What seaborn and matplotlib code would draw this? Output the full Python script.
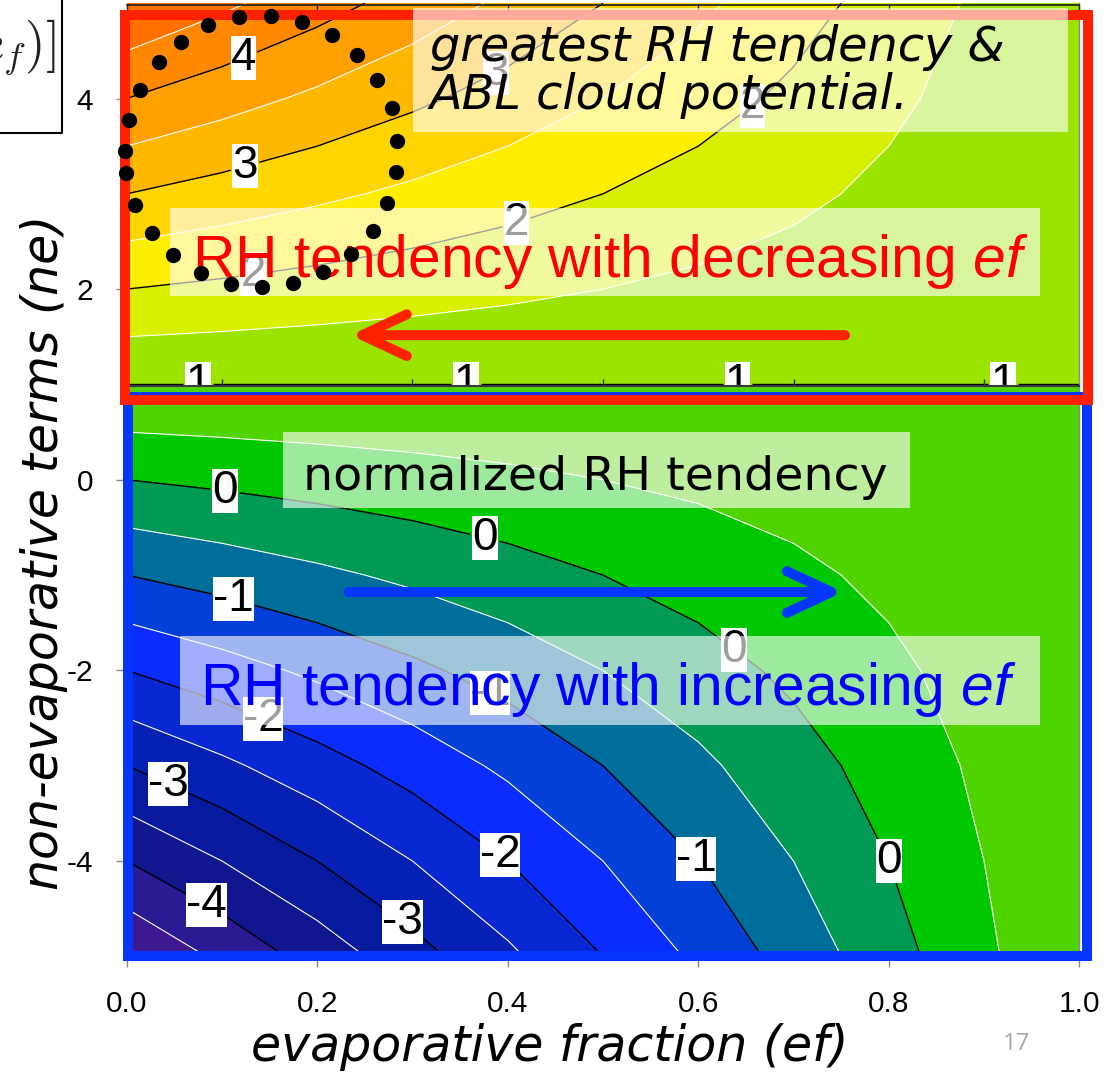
import numpy as np
import matplotlib
matplotlib.use("Agg")
import matplotlib.pyplot as plt
import seaborn as sns
from matplotlib.colors import ListedColormap, BoundaryNorm
from matplotlib.patches import Rectangle, FancyArrowPatch, ArrowStyle
from matplotlib.lines import Line2D
from matplotlib.transforms import Bbox, TransformedBbox

# ---------------------------------------------------------------- data
# evaporative fraction (columns) and non-evaporative terms (rows)
ef_values = [0.0, 0.1, 0.2, 0.3, 0.4, 0.5, 0.6, 0.7, 0.8, 0.9, 1.0]
ne_values = [-5, -4, -3, -2, -1, 0, 1, 2, 3, 4, 5]

# normalized RH tendency on the (ne, ef) grid, one row per ne value
rh_tendency = [
    [-5.0, -4.4, -3.8, -3.2, -2.6, -2.0, -1.4, -0.8, -0.2, 0.4, 1.0],
    [-4.0, -3.5, -3.0, -2.5, -2.0, -1.5, -1.0, -0.5, 0.0, 0.5, 1.0],
    [-3.0, -2.6, -2.2, -1.8, -1.4, -1.0, -0.6, -0.2, 0.2, 0.6, 1.0],
    [-2.0, -1.7, -1.4, -1.1, -0.8, -0.5, -0.2, 0.1, 0.4, 0.7, 1.0],
    [-1.0, -0.8, -0.6, -0.4, -0.2, 0.0, 0.2, 0.4, 0.6, 0.8, 1.0],
    [0.0, 0.1, 0.2, 0.3, 0.4, 0.5, 0.6, 0.7, 0.8, 0.9, 1.0],
    [1.0, 1.0, 1.0, 1.0, 1.0, 1.0, 1.0, 1.0, 1.0, 1.0, 1.0],
    [2.0, 1.9, 1.8, 1.7, 1.6, 1.5, 1.4, 1.3, 1.2, 1.1, 1.01],
    [3.0, 2.8, 2.6, 2.4, 2.2, 2.0, 1.8, 1.6, 1.4, 1.2, 1.01],
    [4.0, 3.7, 3.4, 3.1, 2.8, 2.5, 2.2, 1.9, 1.6, 1.3, 1.01],
    [5.0, 4.6, 4.2, 3.8, 3.4, 3.0, 2.6, 2.2, 1.8, 1.4, 1.01],
]

# contour levels: black lines on whole numbers, white lines on halves
line_levels = [-4, -3, -2, -1, 0, 1, 2, 3, 4]
half_levels = [-4.5, -3.5, -2.5, -1.5, -0.5, 0.5, 1.5, 2.5, 3.5, 4.5]
band_edges = [-5, -4.5, -4, -3.5, -3, -2.5, -2, -1.5, -1, -0.5, 0,
              0.5, 1, 1.5, 2, 2.5, 3, 3.5, 4, 4.5, 5]

# where the contour labels sit (ef, ne)
label_spots = [
    (0.124, 4.40), (0.124, 3.30), (0.132, 2.20), (0.386, 4.30),
    (0.408, 2.74), (0.66, 3.88),
    (0.075, 1.0), (0.356, 1.0), (0.641, 1.0), (0.92, 1.0),
    (0.103, -0.14), (0.376, -0.61), (0.637, -1.79), (0.798, -4.01),
    (0.112, -1.26), (0.378, -2.31), (0.594, -4.01),
    (0.142, -2.54), (0.387, -4.01),
    (0.043, -3.20), (0.29, -4.64), (0.084, -4.46),
]

# outline of the highlighted high-RH region (ef, ne)
highlight_ef = [0.014, 0.034, 0.057, 0.085, 0.118, 0.152, 0.184, 0.216, 0.242,
                0.263, 0.278, 0.284, 0.283, 0.273, 0.259, 0.235, 0.206, 0.175,
                0.142, 0.109, 0.078, 0.049, 0.027, 0.009, -0.001, -0.002, 0.002]
highlight_ne = [4.089, 4.383, 4.593, 4.771, 4.855, 4.865, 4.802, 4.666, 4.456,
                4.194, 3.900, 3.553, 3.227, 2.902, 2.608, 2.367, 2.178, 2.063,
                2.022, 2.053, 2.168, 2.357, 2.588, 2.882, 3.218, 3.449, 3.775]

# direction arrows (ef tail, ef head, ne)
red_arrow = (0.754, 0.235, 1.517)
blue_arrow = (0.233, 0.752, -1.178)

band_colors = ["#3d1890", "#2a1a94", "#10168e", "#061a9e", "#0620b4",
               "#0828d4", "#0a2cff", "#0440d8", "#006e9a", "#009a55",
               "#00c800", "#50d400", "#9be400", "#d8f000", "#ffee00",
               "#ffd400", "#ffb800", "#ffa000", "#ff8800", "#ff7000"]

# ---------------------------------------------------------------- style
sns.set_theme(style="white")
plt.rcParams["font.family"] = ["Liberation Sans", "DejaVu Sans"]
plt.rcParams["text.color"] = "black"
plt.rcParams["mathtext.fontset"] = "custom"
plt.rcParams["mathtext.it"] = "Liberation Sans:italic"
plt.rcParams["mathtext.rm"] = "Liberation Sans"
plt.rcParams["contour.negative_linestyle"] = "solid"

W_PX, H_PX = 1112, 1074
fig = plt.figure(figsize=(W_PX / 100, H_PX / 100), dpi=100)
fig.patch.set_facecolor("white")


def fx(px):
    return px / W_PX


def fy(py):
    return 1 - py / H_PX


AX_L, AX_R, AX_T, AX_B = 126.7, 1079.3, 3.2, 956.3
ax = fig.add_axes([fx(AX_L), fy(AX_B), fx(AX_R) - fx(AX_L), fy(AX_T) - fy(AX_B)])

cmap = ListedColormap(sns.color_palette(band_colors))
norm = BoundaryNorm(band_edges, cmap.N)
z = np.array(rh_tendency)

ax.contourf(ef_values, ne_values, z, levels=band_edges, cmap=cmap, norm=norm)
ax.contour(ef_values, ne_values, z, levels=half_levels, colors="white",
           linewidths=0.8)
cs = ax.contour(ef_values, ne_values, z, levels=line_levels, colors="black",
                linewidths=1.0)
ax.clabel(cs, levels=line_levels, manual=label_spots, fmt="%d", fontsize=33,
          inline=True, inline_spacing=2)

upper_clip = TransformedBbox(Bbox([[-0.1, 0.98], [1.1, 5.5]]), ax.transData)
for t in cs.labelTexts:
    t.set_rotation(0)
    t.set_fontfamily("Liberation Sans")
    t.set_color("black")
    t.set_bbox(dict(facecolor="white", edgecolor="none", pad=0))
    if t.get_text() == "1":
        t.set_clip_on(True)
        t.set_clip_box(upper_clip)

ax.set_xlim(0, 1)
ax.set_ylim(-5, 5)
ax.set_xticks([0.0, 0.2, 0.4, 0.6, 0.8, 1.0])
ax.set_xticklabels(["0.0", "0.2", "0.4", "0.6", "0.8", "1.0"])
ax.set_yticks([-4, -2, 0, 2, 4])
ax.set_yticklabels(["-4", "-2", "0", "2", "4"])
ax.tick_params(axis="both", colors="#888888", labelcolor="black", length=8,
               width=1, pad=16, labelsize=21.5, left=True, bottom=True)
for side in ["left", "bottom", "top"]:
    ax.spines[side].set_visible(False)
ax.spines["right"].set_color("#888888")
ax.spines["right"].set_linewidth(1)

# frame of the upper (ne > 1) panel
top_px, bot_px = 5, 386.5
ax_top = fig.add_axes([fx(AX_L), fy(bot_px), fx(AX_R) - fx(AX_L),
                       fy(top_px) - fy(bot_px)], zorder=1)
ax_top.set_facecolor("none")
ax_top.set_xlim(0, 1)
ax_top.set_yticks([])
ax_top.set_xticks([0.0, 0.2, 0.4, 0.6, 0.8, 1.0])
ax_top.set_xticks(np.linspace(0, 1, 11), minor=True)
ax_top.tick_params(axis="x", which="major", direction="in", top=True,
                   bottom=False, labelbottom=False, length=5, width=1,
                   color="#222222")
ax_top.tick_params(axis="x", which="minor", direction="in", top=False,
                   bottom=True, length=5, width=1, color="#333333")
for side in ["left", "right"]:
    ax_top.spines[side].set_visible(False)
ax_top.spines["top"].set_color("#222222")
ax_top.spines["bottom"].set_color("#3a3a3a")
ax_top.spines["bottom"].set_linewidth(1.5)

# axis titles
fig.text(fx(550), fy(1047), "evaporative fraction (ef)", fontsize=35.3,
         family="DejaVu Sans", style="italic", ha="center", va="center",
         color="black")
fig.text(fx(44), fy(552), "non-evaporative terms (ne)", fontsize=35.3,
         family="DejaVu Sans", style="italic", ha="center", va="center",
         rotation=90, color="black")


def frame(l, t, r, b, color, z):
    fig.add_artist(Rectangle((fx(l), fy(b)), fx(r) - fx(l), fy(t) - fy(b),
                             transform=fig.transFigure, fill=False,
                             edgecolor=color, lw=7.2, joinstyle="miter",
                             zorder=z))


frame(127.7, 397, 1086.5, 956, "#0536ff", 5)
frame(125, 15, 1088, 400, "#ff2200", 6)


def veil(l, t, r, b):
    fig.add_artist(Rectangle((fx(l), fy(b)), fx(r) - fx(l), fy(t) - fy(b),
                             transform=fig.transFigure, facecolor="white",
                             edgecolor="none", alpha=0.62, zorder=7))


veil(413, 8, 1068, 132)
veil(170, 208, 1040, 296)
veil(283, 432, 910, 508)
veil(180, 636, 1040, 725)

fig.text(fx(430), fy(24), "greatest RH tendency &\nABL cloud potential.",
         fontsize=34.4, family="DejaVu Sans", style="italic", ha="left",
         va="top", linespacing=1.02, color="black", zorder=8)
fig.text(fx(192), fy(277), "RH tendency with decreasing $\\mathit{ef}$",
         color="#ff0000", fontsize=42.3, ha="left", va="baseline", zorder=8)
fig.text(fx(303), fy(490), "normalized RH tendency", fontsize=34.2,
         family="DejaVu Sans", ha="left", va="baseline", color="black",
         zorder=8)
fig.text(fx(200), fy(705), "RH tendency with increasing $\\mathit{ef}$",
         color="#0000ff", fontsize=42.3, ha="left", va="baseline", zorder=8)


def arrow(spec, color):
    tail, head, ne = spec
    fig.add_artist(FancyArrowPatch(
        (tail, ne), (head, ne), transform=ax.transData,
        arrowstyle=ArrowStyle("->", head_length=32, head_width=15),
        mutation_scale=1, color=color, lw=7.2, capstyle="round",
        joinstyle="round", shrinkA=0, shrinkB=0, zorder=8))


arrow(red_arrow, "#ff2200")
arrow(blue_arrow, "#0536ff")

fig.add_artist(Line2D(highlight_ef, highlight_ne, transform=ax.transData,
                      ls="none", marker="o", ms=10, color="black", zorder=9))

# equation fragment at the upper-left corner
fig.add_artist(Line2D([fx(-5), fx(62), fx(62)], [fy(133), fy(133), fy(-5)],
                      transform=fig.transFigure, color="black", lw=1.5,
                      zorder=9))
fig.text(fx(56), fy(60), "$e_f)]$", fontsize=38, math_fontfamily="cm",
         color="#222222", ha="right", va="baseline", zorder=9)

fig.text(fx(1003), fy(1050), "17", color="#a6a6a6", fontsize=17,
         family="Open Sans", ha="left", va="baseline")

fig.savefig("out.png", dpi=100)
